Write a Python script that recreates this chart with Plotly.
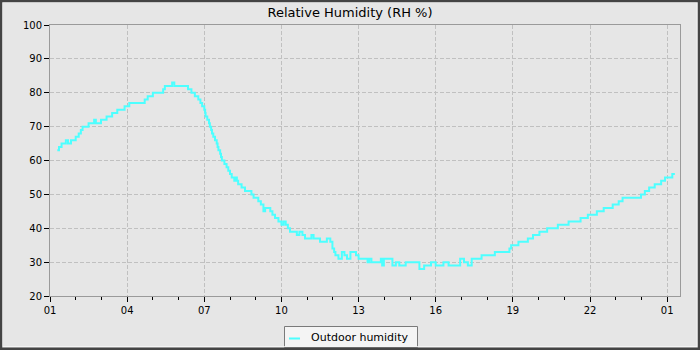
import pandas as pd
import plotly.graph_objects as go

# Outdoor relative humidity readings (local time, HH:MM) over one day
times = [
    "01:17", "01:21", "01:27", "01:37", "01:42", "01:49", "02:00", "02:07", "02:12", "02:16",
    "02:30", "02:43", "02:47", "02:59", "03:12", "03:25", "03:37", "03:54", "04:05", "04:41",
    "04:48", "05:00", "05:24", "05:28", "05:45", "05:50", "06:22", "06:30", "06:38", "06:46",
    "06:51", "06:55", "07:00", "07:02", "07:03", "07:07", "07:11", "07:13", "07:16", "07:18",
    "07:21", "07:25", "07:29", "07:31", "07:33", "07:37", "07:39", "07:41", "07:47", "07:52",
    "07:56", "08:00", "08:04", "08:10", "08:13", "08:16", "08:19", "08:27", "08:35", "08:50",
    "08:55", "09:06", "09:12", "09:18", "09:22", "09:34", "09:39", "09:45", "09:53", "10:00",
    "10:05", "10:10", "10:15", "10:20", "10:36", "10:42", "10:49", "10:55", "11:10", "11:15",
    "11:30", "11:46", "11:54", "11:59", "12:03", "12:06", "12:13", "12:21", "12:27", "12:33",
    "12:41", "12:54", "13:00", "13:21", "13:25", "13:30", "13:52", "13:55", "13:59", "14:19",
    "14:27", "14:35", "14:50", "15:22", "15:33", "15:49", "16:00", "16:18", "16:30", "16:57",
    "17:06", "17:15", "17:24", "17:47", "18:18", "18:52", "18:56", "19:13", "19:35", "19:47",
    "20:02", "20:20", "20:45", "21:10", "21:38", "21:55", "22:16", "22:32", "22:53", "23:07",
    "23:16", "23:59", "00:08", "00:18", "00:31", "00:46", "00:55", "01:12", "01:18",
]
humidity = [
    63, 64, 65, 66, 65, 66, 67, 68, 69, 70,
    71, 72, 71, 72, 73, 74, 75, 76, 77, 78,
    79, 80, 81, 82, 83, 82, 81, 80, 79, 78,
    77, 76, 75, 74, 73, 72, 71, 70, 69, 68,
    67, 66, 65, 64, 63, 62, 61, 60, 59, 58,
    57, 56, 55, 54, 55, 54, 53, 52, 51, 50,
    49, 48, 47, 45, 46, 45, 44, 43, 42, 41,
    42, 41, 40, 39, 38, 39, 38, 37, 38, 37,
    36, 37, 36, 34, 33, 32, 31, 33, 32, 31,
    33, 32, 31, 30, 31, 30, 31, 29, 31, 29,
    30, 29, 30, 28, 29, 30, 29, 30, 29, 31,
    30, 29, 31, 32, 33, 34, 35, 36, 37, 38,
    39, 40, 41, 42, 43, 44, 45, 46, 47, 48,
    49, 50, 51, 52, 53, 54, 55, 56, 56,
]
y_ticks = [20, 30, 40, 50, 60, 70, 80, 90, 100]
series_name = "Outdoor humidity"
title_text = "Relative Humidity (RH %)"

# Turn clock times into timestamps, rolling over to the next day after midnight
base = pd.Timestamp("2024-05-01")
stamps, day, prev = [], 0, None
for t in times:
    h, m = map(int, t.split(":"))
    mins = h * 60 + m
    if prev is not None and mins < prev:
        day += 1
    prev = mins
    stamps.append(base + pd.Timedelta(days=day, minutes=mins))

W, H = 700, 350
M = dict(l=50, r=20, t=25, b=54)
PW = W - M["l"] - M["r"]
PH = H - M["t"] - M["b"]


def fx(px):
    return (px - M["l"]) / PW


def fy(py):
    return (H - M["b"] - py) / PH


HOUR_MS = 3600 * 1000
CYAN = "#4dffff"
FONT = "DejaVu Sans"

fig = go.Figure()
fig.add_trace(go.Scatter(
    x=stamps, y=humidity, mode="lines", name=series_name,
    line=dict(color=CYAN, width=2, shape="hv"), showlegend=False,
))

axis_common = dict(
    showline=True, linecolor="#9a9a9a", linewidth=1, mirror=True,
    ticks="outside", ticklen=5, tickwidth=1, tickcolor="black",
    showgrid=True, gridcolor="#c0c0c0", gridwidth=1, griddash="4px,2px",
    zeroline=False, tickfont=dict(family=FONT, size=10, color="black"),
)

fig.update_xaxes(
    type="date",
    range=[base + pd.Timedelta(hours=1), base + pd.Timedelta(hours=25, minutes=30)],
    tick0=base + pd.Timedelta(hours=1), dtick=3 * HOUR_MS, tickformat="%H",
    minor=dict(dtick=HOUR_MS, ticks="outside", ticklen=3, tickcolor="black", showgrid=False),
    **axis_common,
)
fig.update_yaxes(range=[20, 100], tickvals=y_ticks, **axis_common)

shapes = [
    # legend box with a short line sample
    dict(type="rect", xref="paper", yref="paper",
         x0=fx(284.5), x1=fx(417.5), y0=fy(347.5), y1=fy(326.5),
         fillcolor="#f4f4f4", line=dict(color="#7a7a7a", width=1), layer="above"),
    dict(type="line", xref="paper", yref="paper",
         x0=fx(289), x1=fx(300), y0=fy(338.5), y1=fy(338.5),
         line=dict(color=CYAN, width=2), layer="above"),
    # outer frame of the chart panel
    dict(type="rect", xref="paper", yref="paper",
         x0=fx(2.5), x1=fx(697.2), y0=fy(346.7), y1=fy(2.5),
         line=dict(color="#f7f7f7", width=1), layer="above"),
    dict(type="rect", xref="paper", yref="paper",
         x0=fx(1), x1=fx(699), y0=fy(348.8), y1=fy(1),
         line=dict(color="#444444", width=2.5), layer="above"),
]

fig.update_layout(
    width=W, height=H, margin=M,
    paper_bgcolor="#e6e6e6", plot_bgcolor="#e6e6e6",
    title=dict(text=title_text, x=0.5, xref="container", xanchor="center",
               y=1 - 12 / H, yref="container", yanchor="middle",
               font=dict(family=FONT, size=13, color="black")),
    showlegend=False,
    shapes=shapes,
    annotations=[dict(
        text=series_name, xref="paper", yref="paper", x=fx(309), y=fy(337),
        xanchor="left", yanchor="middle", showarrow=False,
        font=dict(family=FONT, size=11, color="black"),
    )],
)

fig.write_html("out.html")
